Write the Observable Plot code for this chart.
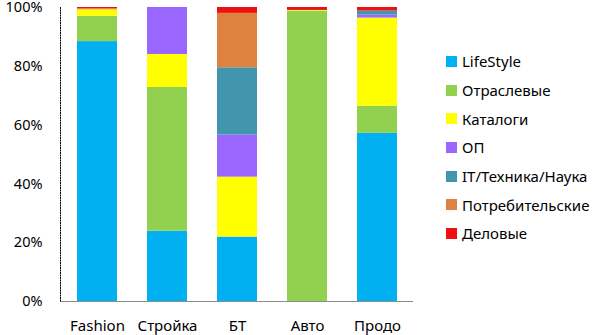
<!DOCTYPE html>
<html><head><meta charset="utf-8">
<script src="https://cdn.jsdelivr.net/npm/d3@7"></script>
<script src="https://cdn.jsdelivr.net/npm/@observablehq/plot@0.6"></script>
<style>
body{margin:0;background:#fff;}
#wrap{position:relative;width:600px;height:335px;font-family:"Noto Sans",sans-serif;}
#legend{position:absolute;left:446px;top:47px;}
.item{display:flex;align-items:center;height:28.7px;font-size:15px;color:#000;}
.sw{width:11px;height:11px;margin-right:5px;}
svg{overflow:visible;}
</style></head>
<body><div id="wrap"><div id="chart"></div><div id="legend"></div></div>
<script>
const categories = ["Fashion","Стройка","БТ","Авто","Продо"];
const series = ["LifeStyle","Отраслевые","Каталоги","ОП","IT/Техника/Наука","Потребительские","Деловые"];
const colors = ["#00B0F0","#92D050","#FFFF00","#9966FF","#4196AE","#DE833F","#EE1111"];
const LifeStyle       = [88.4, 23.9, 21.9, 0,    57.2];
const Otraslevye      = [8.6,  48.9, 0,    98.8, 9.2];
const Katalogi        = [2.2,  11.2, 20.4, 0.2,  30.0];
const OP              = [0,    16.0, 14.3, 0,    1.0];
const IT              = [0,    0,    22.9, 0,    1.4];
const Potrebitelskie  = [0.4,  0,    18.5, 0,    0];
const Delovye         = [0.4,  0,    2.0,  1.0,  1.2];
const yTicks = [0,20,40,60,80,100];

const valuesBySeries = [LifeStyle,Otraslevye,Katalogi,OP,IT,Potrebitelskie,Delovye];
const data = [];
series.forEach((s,i)=>categories.forEach((c,j)=>data.push({cat:c, series:s, value:valuesBySeries[i][j]})));

const marks = [
  Plot.barY(data,{x:"cat",y:"value",fill:"series",order:series}),
  Plot.ruleY([0],{stroke:"#8c8c8c",strokeWidth:1.2}),
  Plot.axisY({ticks:yTicks,tickFormat:d=>d+"%",tickSize:0,tickPadding:18,fontSize:14.5}),
  Plot.axisX({tickSize:0,tickPadding:19,fontSize:15})
];
try { marks.push(Plot.frame({anchor:"left",stroke:"#000",strokeDasharray:"1,1.5"})); } catch(e) {}

const chart = Plot.plot({
  width:600,height:335,
  marginLeft:60,marginRight:187,marginTop:7,marginBottom:34,
  style:{fontFamily:"'Noto Sans',sans-serif",fontSize:"15px",color:"#000",background:"#fff",overflow:"visible"},
  x:{domain:categories,paddingInner:0.432,paddingOuter:0.227,label:null},
  y:{domain:[0,100],label:null},
  color:{domain:series,range:colors},
  marks
});
document.getElementById("chart").appendChild(chart);

const leg = document.getElementById("legend");
series.forEach((s,i)=>{
  const d=document.createElement("div");d.className="item";
  d.innerHTML=`<span class="sw" style="background:${colors[i]}"></span><span>${s}</span>`;
  leg.appendChild(d);
});
</script></body></html>
